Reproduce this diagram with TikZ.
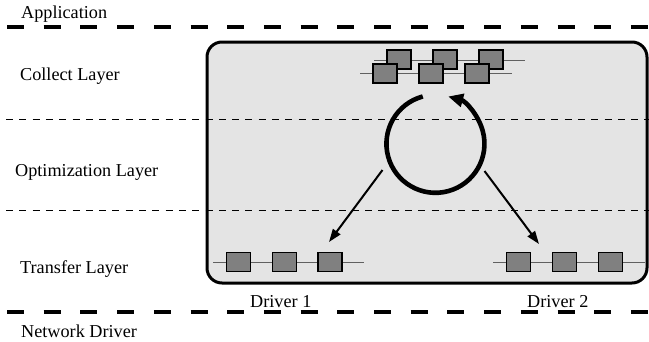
\documentclass[tikz,border=0pt]{standalone}
\usepackage{fontspec}
\setmainfont{Liberation Serif}
\usetikzlibrary{arrows.meta}
\definecolor{panelgray}{HTML}{E4E4E4}
\definecolor{blockgray}{HTML}{808080}
\definecolor{wiregray}{HTML}{606060}
\tikzset{
  layerlabel/.style={anchor=base west, inner sep=0pt, font=\fontsize{18.2}{20}\selectfont},
  boundary/.style={line width=3.3pt, dash pattern=on 17pt off 19.7pt},
  divider/.style={line width=1pt, dash pattern=on 7pt off 6.3pt},
  panel/.style={draw, line width=3pt, rounded corners=15pt, fill=panelgray},
  block/.style={draw, line width=1.2pt, fill=blockgray, minimum width=24pt,
    minimum height=19pt, inner sep=0pt, outer sep=0pt},
  wire/.style={draw=wiregray, line width=1pt},
  flow/.style={line width=2pt, -{Triangle[length=13pt,width=9pt]}},
  loop/.style={line width=4.6pt, -{Triangle[length=15pt,width=13pt]}},
}
\begin{document}
\begin{tikzpicture}[x=1pt,y=1pt]
\useasboundingbox (0,0) rectangle (649,-341);

% layer panel
\node[panel, minimum width=440pt, minimum height=241pt, inner sep=0pt]
  (panel) at (427,-162.5) {};

% application / network boundaries
\coordinate (apL) at (7,-27);  \coordinate (apR) at (649,-27);
\coordinate (ndL) at (7,-312); \coordinate (ndR) at (649,-312);
\draw[boundary] (apL) -- (apR);
\draw[boundary] (ndL) -- (ndR);

% layer dividers
\coordinate (d1L) at (6,-119);  \coordinate (d1R) at (649,-119);
\coordinate (d2L) at (6,-210);  \coordinate (d2R) at (649,-210);
\draw[divider] (d1L) -- (d1R);
\draw[divider] (d2L) -- (d2R);

% labels
\node[layerlabel] (lapp) at (21,-18) {Application};
\node[layerlabel] (lcol) at (20,-80) {Collect Layer};
\node[layerlabel] (lopt) at (15,-176) {Optimization Layer};
\node[layerlabel] (ltra) at (20,-273) {Transfer Layer};
\node[layerlabel] (lnet) at (21,-337) {Network Driver};
\node[layerlabel] (ldr1) at (250,-307) {Driver 1};
\node[layerlabel] (ldr2) at (527,-307) {Driver 2};

% collect layer: two staggered queues
\coordinate (cuL) at (374,-60); \coordinate (cuR) at (525,-60);
\draw[wire] (cuL) -- (cuR);
\node[block] (cu1) at (399,-59.5) {};
\node[block] (cu2) at (445,-59.5) {};
\node[block] (cu3) at (491,-59.5) {};
\coordinate (clL) at (360,-73); \coordinate (clR) at (512,-73);
\draw[wire] (clL) -- (clR);
\node[block] (cl1) at (385,-73.5) {};
\node[block] (cl2) at (431,-73.5) {};
\node[block] (cl3) at (477,-73.5) {};

% transfer layer: one queue per driver
\coordinate (t1L) at (213,-262); \coordinate (t1R) at (364,-262);
\draw[wire] (t1L) -- (t1R);
\node[block] (ta1) at (238.5,-262) {};
\node[block] (ta2) at (284.5,-262) {};
\node[block] (ta3) at (330,-262) {};
\coordinate (t2L) at (493,-262); \coordinate (t2R) at (645,-262);
\draw[wire] (t2L) -- (t2R);
\node[block] (tb1) at (518.5,-262) {};
\node[block] (tb2) at (564.5,-262) {};
\node[block] (tb3) at (610.5,-262) {};

% optimization loop
\node[circle, minimum size=98pt, inner sep=0pt] (ring) at (435.5,-144) {};
\draw[loop] (ring.105) arc[start angle=105, end angle=435, radius=49pt];

% dispatch to the drivers
\coordinate (s1) at (382.5,-170);
\coordinate (e1) at (329,-242);
\coordinate (s2) at (484.5,-171);
\coordinate (e2) at (539,-244);
\draw[flow] (s1) -- (e1);
\draw[flow] (s2) -- (e2);
\end{tikzpicture}
\end{document}
